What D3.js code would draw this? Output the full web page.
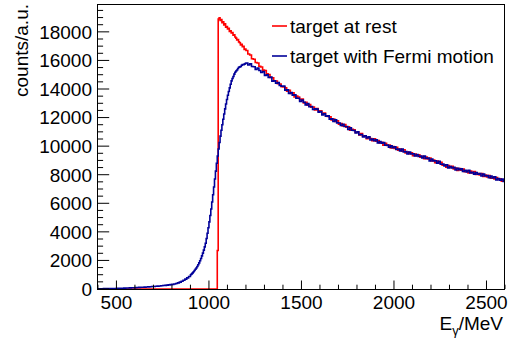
<!DOCTYPE html>
<html><head><meta charset="utf-8">
<script src="https://cdn.jsdelivr.net/npm/d3@7"></script>
<style>body{margin:0;background:#fff}svg{display:block}text{font-family:"Liberation Sans",Arial,sans-serif}</style>
</head><body><svg id="c" width="517" height="340"></svg>
<script>
// bin layout: [start, end, width] segments (finer bins across the threshold)
const binSegments = [[400, 900, 10], [900, 1200, 5], [1200, 2600, 10]];
const xTicks = [500, 1000, 1500, 2000, 2500];
const yTicks = [0, 2000, 4000, 6000, 8000, 10000, 12000, 14000, 16000, 18000];
const seriesNames = ["target at rest", "target with Fermi motion"];
const atRest = [
// 400-890 (10 MeV)
0,0,0,0,0,0,0,0,0,0,
0,0,0,0,0,0,0,0,0,0,
0,0,0,0,0,0,0,0,0,0,
0,0,0,0,0,0,0,0,0,0,
0,0,0,0,0,0,0,0,0,0,
// 900-1195 (5 MeV)
0,0,0,0,0,0,0,0,0,0,
0,0,0,0,0,0,0,0,0,0,
0,0,0,0,0,0,0,0,0,2700,
18900,18980,18800,18860,18640,18700,18480,18560,18330,18380,
18200,18250,18030,18070,17920,17950,17760,17800,17640,17560,
17440,17470,17300,17240,17090,17130,16960,16990,16760,16800,
// 1200-2590 (10 MeV)
16700,16450,16380,16120,16080,15850,15820,15590,15540,15320,
15290,15060,15010,14810,14790,14580,14560,14370,14350,14160,
14150,14080,13850,13910,13680,13730,13450,13500,13440,13250,
13290,13030,13070,12860,12920,12720,12740,12530,12640,12470,
12470,12260,12320,12100,12080,12050,11830,11890,11730,11780,
11530,11590,11410,11510,11320,11350,11120,11180,11150,10950,
10980,10780,10880,10700,10720,10520,10620,10530,10380,10520,
10340,10400,10220,10270,10070,10200,10040,10070,9870,9970,
9840,9920,9720,9790,9640,9750,9520,9580,9470,9540,
9330,9450,9330,9400,9230,9290,9120,9230,9100,9170,
8960,9020,8840,8950,8800,8870,8670,8690,8530,8640,
8500,8590,8400,8470,8290,8430,8320,8390,8210,8280,
8130,8250,8120,8220,8020,8090,7980,8080,7870,7980,
7850,7950,7750,7830,7710,7800,7660,7710,7540,7620];
const fermi = [
// 400-890 (10 MeV)
18,20,22,24,26,28,30,33,36,40,
44,48,52,57,62,67,72,78,84,90,
97,104,111,118,126,134,142,151,160,170,
180,190,200,212,225,240,255,272,290,307,
325,355,390,430,480,540,610,690,780,880,
// 900-1195 (5 MeV)
1000,1060,1130,1210,1290,1380,1470,1580,1700,1830,
1980,2140,2320,2510,2720,2950,3200,3530,3900,4290,
4700,5140,5600,6090,6600,7140,7700,8250,8800,9310,
9800,10260,10700,11110,11500,11880,12250,12610,12950,13270,
13560,13830,14080,14330,14570,14740,14880,15040,15170,15260,
15330,15440,15520,15550,15580,15660,15720,15700,15740,15790,
// 1200-2590 (10 MeV)
15820,15680,15760,15570,15560,15360,15460,15300,15160,15220,
14950,14990,14810,14840,14550,14580,14400,14450,14240,14200,
14210,13920,13940,13690,13750,13570,13600,13360,13350,13120,
13220,13070,12890,12980,12760,12770,12560,12610,12590,12380,
12420,12190,12270,12100,12120,11890,11910,11730,11840,11630,
11620,11440,11530,11370,11380,11170,11280,11110,11100,10920,
11010,10800,10810,10640,10730,10580,10660,10430,10490,10380,
10450,10230,10330,10210,10250,10060,10080,9920,10020,9890,
9960,9760,9800,9670,9800,9600,9630,9450,9580,9450,
9470,9310,9420,9280,9310,9180,9300,9140,9170,8970,
9100,8970,8980,8810,8940,8730,8750,8620,8700,8480,
8570,8470,8520,8330,8450,8350,8410,8230,8310,8200,
8310,8130,8170,8040,8160,8030,8090,7910,8040,7920,
7940,7790,7900,7770,7850,7640,7730,7610,7690,7520];

const L = 97, R = 505, T = 4, B = 289;
const svg = d3.select("#c");
const x = d3.scaleLinear().domain([395, 2600]).range([L, R]);
const y = d3.scaleLinear().domain([0, 19950]).range([B, T]);

const lows = binSegments.flatMap(s => d3.range(s[0], s[1], s[2]));
const lastEdge = binSegments[binSegments.length - 1][1];

svg.append("defs").append("clipPath").attr("id", "clip")
  .append("rect").attr("x", L).attr("y", T).attr("width", R - L).attr("height", B - T);

function pts(vals) {
  const p = vals.map((v, i) => [lows[i], v]);
  p.push([lastEdge, vals[vals.length - 1]]);
  return p;
}
const line = d3.line().x(d => x(d[0])).y(d => y(d[1])).curve(d3.curveStepAfter);
const g = svg.append("g").attr("clip-path", "url(#clip)");
g.append("path").attr("d", line(pts(atRest))).attr("fill", "none").attr("stroke", "#ff0000").attr("stroke-width", 1.6);
g.append("path").attr("d", line(pts(fermi))).attr("fill", "none").attr("stroke", "#000099").attr("stroke-width", 1.6);

// axes
const minorX = d3.range(400, 2601, 100).filter(v => !xTicks.includes(v));
const xAxis = svg.append("g");
xAxis.selectAll(".mj").data(xTicks).join("line")
  .attr("x1", d => x(d)).attr("x2", d => x(d)).attr("y1", B).attr("y2", B - 8.5).attr("stroke", "#000");
xAxis.selectAll(".mn").data(minorX).join("line")
  .attr("x1", d => x(d)).attr("x2", d => x(d)).attr("y1", B).attr("y2", B - 4.3).attr("stroke", "#000");
xAxis.selectAll("text").data(xTicks).join("text")
  .attr("x", d => x(d)).attr("y", 309).attr("text-anchor", "middle").attr("font-size", 19).text(d => d);

const minorY = d3.range(0, 19951, 500).filter(v => v % 2000 !== 0);
const yAxis = svg.append("g");
yAxis.selectAll(".mj").data(yTicks).join("line")
  .attr("x1", L).attr("x2", L + 12.2).attr("y1", d => y(d)).attr("y2", d => y(d)).attr("stroke", "#000");
yAxis.selectAll(".mn").data(minorY).join("line")
  .attr("x1", L).attr("x2", L + 6.1).attr("y1", d => y(d)).attr("y2", d => y(d)).attr("stroke", "#000");
yAxis.selectAll("text").data(yTicks).join("text")
  .attr("x", 92).attr("y", d => y(d) + 6.8).attr("text-anchor", "end").attr("font-size", 19).text(d => d);

svg.append("rect").attr("x", L + 0.5).attr("y", T + 0.5).attr("width", R - L - 1).attr("height", B - T)
  .attr("fill", "none").attr("stroke", "#000").attr("stroke-width", 1);

// titles
const xt = svg.append("text").attr("x", 503).attr("y", 330).attr("text-anchor", "end").attr("font-size", 19);
xt.append("tspan").text("E");
xt.append("tspan").attr("font-size", 13).attr("dy", 5).text("γ");
xt.append("tspan").attr("dy", -5).text("/MeV");

svg.append("text").attr("transform", "translate(28,4) rotate(-90)").attr("text-anchor", "end")
  .attr("font-size", 19).text("counts/a.u.");

// legend
const leg = svg.append("g");
const colors = ["#ff0000", "#000099"];
const ly = [26, 56];
seriesNames.forEach((n, i) => {
  leg.append("line").attr("x1", 272).attr("x2", 287).attr("y1", ly[i]).attr("y2", ly[i])
    .attr("stroke", colors[i]).attr("stroke-width", 1.6);
  leg.append("text").attr("x", 290).attr("y", ly[i] + 6.5).attr("font-size", 19).text(n);
});
</script></body></html>
